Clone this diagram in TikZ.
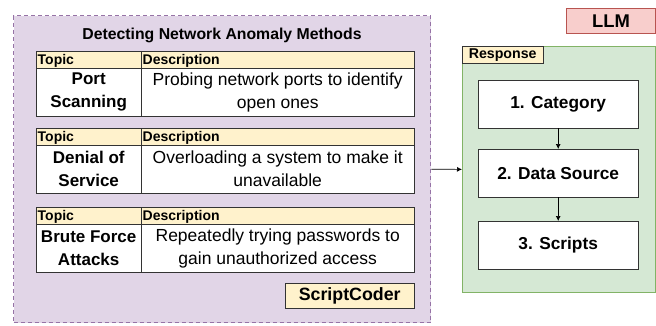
\documentclass[tikz,border=0pt]{standalone}
\usepackage{fontspec}
\setmainfont{Liberation Sans}
\usetikzlibrary{arrows.meta}
\definecolor{purpfill}{HTML}{E1D5E7}
\definecolor{purpline}{HTML}{9673A6}
\definecolor{yelfill}{HTML}{FFF2CC}
\definecolor{greenfill}{HTML}{D5E8D4}
\definecolor{greenline}{HTML}{82B366}
\definecolor{redfill}{HTML}{F8CECC}
\definecolor{redline}{HTML}{B85450}
\definecolor{cellline}{HTML}{333333}
\tikzset{
  hdrcell/.style={draw=cellline, fill=yelfill, anchor=north west, inner sep=1.5pt, align=left,
     font=\fontsize{14}{15}\selectfont\bfseries, text depth=0pt},
  topiccell/.style={draw=cellline, fill=white, anchor=north west, inner sep=0pt, align=center,
     font=\fontsize{17}{23}\selectfont\bfseries},
  desccell/.style={draw=cellline, fill=white, anchor=north west, inner sep=0pt, align=center,
     font=\fontsize{17.5}{23}\selectfont},
  stepbox/.style={draw=cellline, fill=white, anchor=north west, minimum width=160pt, minimum height=48pt,
     inner sep=0pt, font=\fontsize{17.3}{19}\selectfont\bfseries},
  flowarrow/.style={-{Latex[length=5pt,width=5pt]}, line width=0.7pt, black},
}
\begin{document}
\begin{tikzpicture}[x=1pt,y=-1pt]
\useasboundingbox (0,0) rectangle (656,325);
% outer purple dashed box
\node[draw=purpline, fill=purpfill, dashed, dash pattern=on 4pt off 3pt, line width=1.3pt,
  anchor=north west, minimum width=417pt, minimum height=307pt, inner sep=0pt] (methods) at (13,15) {};
\node[font=\fontsize{15.8}{18}\selectfont\bfseries] (title) at (222,35) {Detecting Network Anomaly Methods};
% table 1
\node[hdrcell, minimum width=105pt, minimum height=17pt, text width=102pt] (h1a) at (36,51) {Topic};
\node[hdrcell, minimum width=273pt, minimum height=17pt, text width=270pt] (h1b) at (141,51) {Description};
\node[topiccell, minimum width=105pt, minimum height=48pt] (t1a) at (36,68) {Port\\Scanning};
\node[desccell, minimum width=273pt, minimum height=48pt] (t1b) at (141,68) {Probing network ports to identify\\open ones};
% table 2
\node[hdrcell, minimum width=105pt, minimum height=17pt, text width=102pt] (h2a) at (36,128) {Topic};
\node[hdrcell, minimum width=273pt, minimum height=17pt, text width=270pt] (h2b) at (141,128) {Description};
\node[topiccell, minimum width=105pt, minimum height=48pt] (t2a) at (36,145) {Denial of\\Service};
\node[desccell, minimum width=273pt, minimum height=48pt] (t2b) at (141,145) {Overloading a system to make it\\unavailable};
% table 3
\node[hdrcell, minimum width=105pt, minimum height=17pt, text width=102pt] (h3a) at (36,207) {Topic};
\node[hdrcell, minimum width=273pt, minimum height=17pt, text width=270pt] (h3b) at (141,207) {Description};
\node[topiccell, minimum width=105pt, minimum height=48pt] (t3a) at (36,224) {Brute Force\\Attacks};
\node[desccell, minimum width=273pt, minimum height=48pt] (t3b) at (141,224) {Repeatedly trying passwords to\\gain unauthorized access};
% ScriptCoder
\node[draw=cellline, fill=yelfill, anchor=north west, minimum width=129pt, minimum height=25pt, inner sep=0pt,
  font=\fontsize{17.8}{19}\selectfont\bfseries] (coder) at (285,283) {ScriptCoder};
% LLM
\node[draw=redline, fill=redfill, anchor=north west, minimum width=89pt, minimum height=25pt, inner sep=0pt,
  line width=1pt, font=\fontsize{18.4}{20}\selectfont\bfseries] (llm) at (566,8) {LLM};
% Response
\node[draw=greenline, fill=greenfill, anchor=north west, minimum width=193pt, minimum height=246pt, inner sep=0pt,
  line width=0.8pt] (response) at (462,46) {};
\node[draw=cellline, fill=yelfill, anchor=north west, minimum width=81pt, minimum height=17pt, inner sep=0pt,
  font=\fontsize{14.2}{15}\selectfont\bfseries] (resplabel) at (462,46) {Response};
\node[stepbox] (cat) at (478,80) {1. Category};
\node[stepbox] (ds) at (478,149) {2. Data Source};
\node[stepbox] (scr) at (478,221) {3. Scripts};
% connectors
\draw[flowarrow] (methods.east) -- (response.west);
\draw[flowarrow] (cat.south) -- (ds.north);
\draw[flowarrow] (ds.south) -- (scr.north);
\end{tikzpicture}
\end{document}
